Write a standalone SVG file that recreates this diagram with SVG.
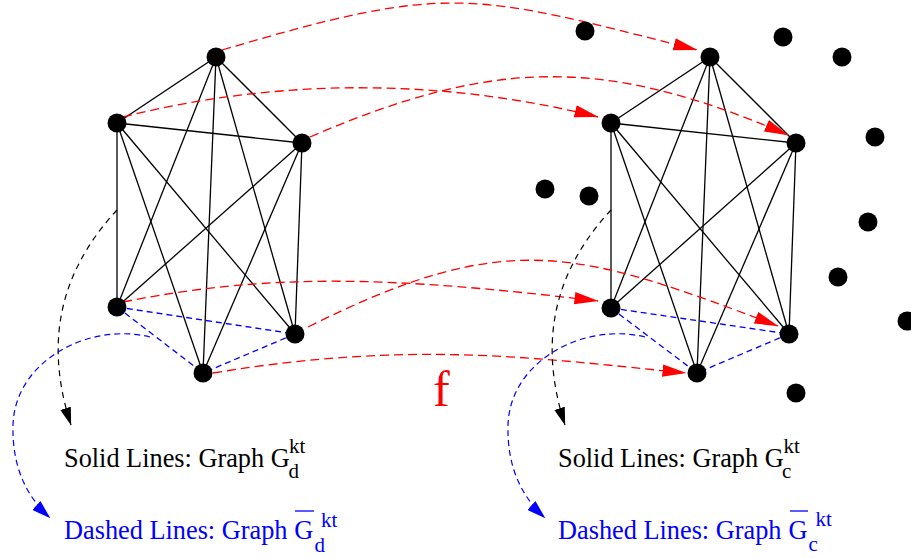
<svg xmlns="http://www.w3.org/2000/svg" width="911" height="558" viewBox="0 0 911 558">
<style>
.bg{fill:#fff}
.node{fill:#000}
.solid{stroke:#000;stroke-width:1.3;fill:none}
.bd{stroke:#0000ff;stroke-width:1.3;fill:none;stroke-dasharray:6 4}
.rd{stroke:#ff0000;stroke-width:1.3;fill:none;stroke-dasharray:9 5;marker-end:url(#ar)}
.kd{stroke:#000;stroke-width:1.2;fill:none;stroke-dasharray:6 5;marker-end:url(#ak)}
.ba{stroke:#0000ff;stroke-width:1.2;fill:none;stroke-dasharray:6 4;marker-end:url(#ab)}
text{font-family:"Liberation Serif","Times New Roman",serif}
.main{font-size:26.3px}
.small{font-size:21px}
.k{fill:#000}
.b{fill:#0000ff}
</style>
<defs>
<marker id="ar" markerUnits="userSpaceOnUse" viewBox="0 0 24 13" markerWidth="24" markerHeight="13" refX="23.5" refY="6.5" orient="auto"><path d="M0,0.3 L24,6.5 L0,12.7 Z" fill="#ff0000"/></marker>
<marker id="ak" markerUnits="userSpaceOnUse" viewBox="0 0 18 11" markerWidth="18" markerHeight="11" refX="17.5" refY="5.5" orient="auto"><path d="M0,0 L18,5.5 L0,11 Z" fill="#000"/></marker>
<marker id="ab" markerUnits="userSpaceOnUse" viewBox="0 0 19 12" markerWidth="19" markerHeight="12" refX="18.5" refY="6" orient="auto"><path d="M0,0 L19,6 L0,12 Z" fill="#0000ff"/></marker>
</defs>
<rect class="bg" x="0" y="0" width="911" height="558"/>
<g id="connectors">
<!-- left graph solid edges -->
<line class="solid" x1="216" y1="57" x2="117" y2="123"/>
<line class="solid" x1="216" y1="57" x2="302" y2="143"/>
<line class="solid" x1="216" y1="57" x2="117" y2="307"/>
<line class="solid" x1="216" y1="57" x2="295" y2="334"/>
<line class="solid" x1="216" y1="57" x2="203" y2="373"/>
<line class="solid" x1="117" y1="123" x2="302" y2="143"/>
<line class="solid" x1="117" y1="123" x2="117" y2="307"/>
<line class="solid" x1="117" y1="123" x2="295" y2="334"/>
<line class="solid" x1="117" y1="123" x2="203" y2="373"/>
<line class="solid" x1="302" y1="143" x2="117" y2="307"/>
<line class="solid" x1="302" y1="143" x2="295" y2="334"/>
<line class="solid" x1="302" y1="143" x2="203" y2="373"/>
<!-- left graph dashed complement edges -->
<line class="bd" x1="117" y1="307" x2="295" y2="334"/>
<line class="bd" x1="117" y1="307" x2="203" y2="373"/>
<line class="bd" x1="295" y1="334" x2="203" y2="373"/>
<!-- right graph solid edges -->
<line class="solid" x1="710" y1="57" x2="611" y2="123"/>
<line class="solid" x1="710" y1="57" x2="796" y2="143"/>
<line class="solid" x1="710" y1="57" x2="611" y2="308"/>
<line class="solid" x1="710" y1="57" x2="789" y2="334"/>
<line class="solid" x1="710" y1="57" x2="697" y2="373"/>
<line class="solid" x1="611" y1="123" x2="796" y2="143"/>
<line class="solid" x1="611" y1="123" x2="611" y2="308"/>
<line class="solid" x1="611" y1="123" x2="789" y2="334"/>
<line class="solid" x1="611" y1="123" x2="697" y2="373"/>
<line class="solid" x1="796" y1="143" x2="611" y2="308"/>
<line class="solid" x1="796" y1="143" x2="789" y2="334"/>
<line class="solid" x1="796" y1="143" x2="697" y2="373"/>
<!-- right graph dashed complement edges -->
<line class="bd" x1="611" y1="308" x2="789" y2="334"/>
<line class="bd" x1="611" y1="308" x2="697" y2="373"/>
<line class="bd" x1="789" y1="334" x2="697" y2="373"/>
<!-- mapping f (red) -->
<path class="rd" d="M222,50 C449,-17 470,-8 697,50"/>
<path class="rd" d="M123,117 C278,78 442,78 598,117"/>
<path class="rd" d="M310,137 C493,58 605,56 788,135"/>
<path class="rd" d="M123,302 C273,272 397,277 598,301"/>
<path class="rd" d="M308,327 C508,227 577,250 778,326"/>
<path class="rd" d="M213,373 C413,340 535,358 686,373"/>
<!-- legend arrows -->
<path class="kd" d="M117,210 C69,262 40,330 71,425"/>
<path class="kd" d="M611,210 C563,262 534,330 565,425"/>
<path class="ba" d="M150,337 C90,322 15,360 13,425 C12,465 25,495 50,518"/>
<path class="ba" d="M645,337 C585,322 510,360 508,425 C507,465 520,495 545,518"/>
</g>
<g id="left-graph">
<g id="ld-top"><circle class="node" cx="216" cy="57" r="9.5"/></g>
<g id="ld-ul"><circle class="node" cx="117" cy="123" r="9.5"/></g>
<g id="ld-ur"><circle class="node" cx="302" cy="143" r="9.5"/></g>
<g id="ld-ll"><circle class="node" cx="117" cy="307" r="9.5"/></g>
<g id="ld-lr"><circle class="node" cx="295" cy="334" r="9.5"/></g>
<g id="ld-b"><circle class="node" cx="203" cy="373" r="9.5"/></g>
</g>
<g id="right-graph">
<g id="rc-top"><circle class="node" cx="710" cy="57" r="9.5"/></g>
<g id="rc-ul"><circle class="node" cx="611" cy="123" r="9.5"/></g>
<g id="rc-ur"><circle class="node" cx="796" cy="143" r="9.5"/></g>
<g id="rc-ll"><circle class="node" cx="611" cy="308" r="9.5"/></g>
<g id="rc-lr"><circle class="node" cx="789" cy="334" r="9.5"/></g>
<g id="rc-b"><circle class="node" cx="697" cy="373" r="9.5"/></g>
</g>
<g id="other-nodes">
<g id="o1"><circle class="node" cx="585" cy="31" r="9.5"/></g>
<g id="o2"><circle class="node" cx="783" cy="37" r="9.5"/></g>
<g id="o3"><circle class="node" cx="842" cy="57" r="9.5"/></g>
<g id="o4"><circle class="node" cx="875" cy="137" r="9.5"/></g>
<g id="o5"><circle class="node" cx="545" cy="189" r="9.5"/></g>
<g id="o6"><circle class="node" cx="589" cy="196" r="9.5"/></g>
<g id="o7"><circle class="node" cx="868" cy="222" r="9.5"/></g>
<g id="o8"><circle class="node" cx="838" cy="277" r="9.5"/></g>
<g id="o9"><circle class="node" cx="907" cy="321" r="9.5"/></g>
<g id="o10"><circle class="node" cx="796" cy="393" r="9.5"/></g>
</g>
<g id="labels">
<text x="433" y="406" font-size="50" fill="#ff0000">f</text>
<text class="main k" x="64" y="467">Solid Lines: Graph G</text>
<text class="small k" x="288.5" y="478">d</text>
<text class="small k" x="289" y="452.5">kt</text>
<text class="main b" x="64" y="539">Dashed Lines: Graph</text>
<text class="main b" x="294.3" y="539">G</text>
<line x1="295" y1="511" x2="314" y2="511" stroke="#0000ff" stroke-width="1.3"/>
<text class="small b" x="314.5" y="551.5">d</text>
<text class="small b" x="321" y="526.5">kt</text>
<text class="main k" x="558" y="466.5">Solid Lines: Graph G</text>
<text class="small k" x="782" y="477.5">c</text>
<text class="small k" x="783.5" y="452.5">kt</text>
<text class="main b" x="558" y="539">Dashed Lines: Graph</text>
<text class="main b" x="788.5" y="539">G</text>
<line x1="790" y1="511" x2="808" y2="511" stroke="#0000ff" stroke-width="1.3"/>
<text class="small b" x="808.5" y="550.5">c</text>
<text class="small b" x="815.5" y="526">kt</text>
</g>
</svg>
